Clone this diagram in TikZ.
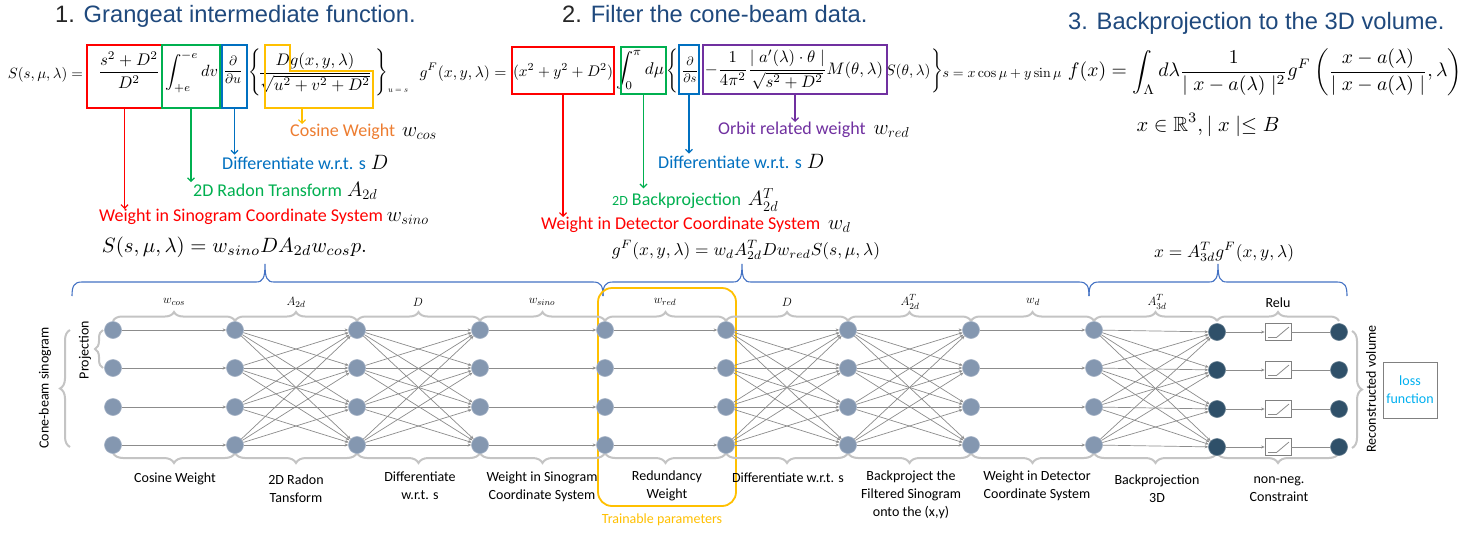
\documentclass[tikz,border=0pt]{standalone}
\usepackage[no-math]{fontspec}
\usepackage{amsmath,amssymb}
\newfontfamily\calib{Carlito}
\newfontfamily\arialf{Liberation Sans}
\usetikzlibrary{arrows.meta,decorations.pathreplacing,calc}
\definecolor{tblue}{HTML}{1F497D}
\definecolor{cred}{HTML}{FF0000}
\definecolor{cgreen}{HTML}{00B050}
\definecolor{cblue}{HTML}{0070C0}
\definecolor{cyel}{HTML}{FFC000}
\definecolor{cpurp}{HTML}{7030A0}
\definecolor{corange}{HTML}{ED7D31}
\definecolor{bblue}{HTML}{4472C4}
\definecolor{ngrey}{HTML}{8497B0}
\definecolor{ndark}{HTML}{2F5069}
\definecolor{bgrey}{HTML}{C4C4C4}
\definecolor{egrey}{HTML}{8C8C8C}
\definecolor{lossblue}{HTML}{00B0F0}
\newcommand{\fitw}[2]{\resizebox{#1pt}{!}{$\displaystyle #2$}}
\newcommand{\fith}[2]{\resizebox*{!}{#1pt}{$#2$}}
\newcommand{\amath}[1]{{\fontsize{20}{24}\selectfont$#1$}}
\newcommand{\bluebr}[3]{\draw[bbr] (#1,296) .. controls (#1,286) and ({#1+2},282) .. ({#1+10},282) -- ({#2-9},282) .. controls ({#2-2},282) and (#2,278) .. (#2,264) .. controls (#2,278) and ({#2+2},282) .. ({#2+9},282) -- ({#3-10},282) .. controls ({#3-2},282) and (#3,286) .. (#3,296);}
\begin{document}
\begin{tikzpicture}[x=1pt,y=-1pt,
  title/.style={font=\arialf\fontsize{23.7}{28}\selectfont, text=tblue, inner sep=0pt, anchor=base west},
  eq/.style={inner sep=0pt},
  ann/.style={font=\calib\fontsize{18}{22}\selectfont, inner sep=0pt, anchor=west},
  lab/.style={font=\calib\fontsize{14}{18}\selectfont, align=center, inner sep=0pt},
  mlab/.style={inner sep=0pt, font=\fontsize{12.5}{15}\selectfont},
  nd/.style={circle, fill=ngrey, draw=ngrey!75!white, line width=0.6pt, minimum size=17pt, inner sep=0pt},
  ndk/.style={nd, fill=ndark, draw=ndark!75!white},
  edge/.style={draw=egrey, line width=0.7pt, -{Stealth[length=3.5pt,width=3pt]}},
  hedge/.style={edge, line width=1pt},
  plain/.style={draw=egrey, line width=0.8pt},
  hbox/.style={draw, line width=2pt, inner sep=0pt},
  annarrow/.style={line width=1.2pt, -{Straight Barb[length=3.5pt,width=7pt]}},
  gbrup/.style={draw=bgrey, line width=2pt, decorate, decoration={brace, amplitude=9pt}},
  gbrdn/.style={draw=bgrey, line width=2pt, decorate, decoration={brace, mirror, amplitude=10pt}},
  gbrside/.style={draw=bgrey, line width=2pt, decorate, decoration={brace, amplitude=10pt}},
  bbr/.style={draw=bblue, line width=1.1pt},
  relubox/.style={draw=gray, line width=0.8pt, minimum width=26pt, minimum height=17pt, inner sep=0pt}
]
\useasboundingbox (0,0) rectangle (1464,533);
\fill[white] (0,0) rectangle (1464,533);

% ---------- titles
\node[title] (t1) at (55,22) {{\color{black!85}1.} Grangeat intermediate function.};
\node[title] (t2) at (562,22) {{\color{black!85}2.} Filter the cone-beam data.};
\node[title] (t3) at (1068,29) {3. Backprojection to the 3D volume.};

% ---------- formula 1
\node[eq] (f1a) at (45.5,75) {\fitw{75}{S(s,\mu,\lambda) =}};
\node[eq] (f1b) at (129,70) {\fitw{62}{\frac{s^2+D^2}{D^2}}};
\node[eq] (f1c) at (191.5,72) {\fitw{53}{\int_{+e}^{-e} dv}};
\node[eq] (f1d) at (233,70) {\fitw{19}{\frac{\partial}{\partial u}}};
\node[eq] (f1e) at (255,72) {\fith{47}{\Bigg\{}};
\node[eq] (f1f) at (315,73) {\fitw{114}{\frac{Dg(x,y,\lambda)}{\sqrt{u^2+v^2+D^2}}}};
\node[eq] (f1g) at (382,72) {\fith{47}{\Bigg\}}};
\node[eq] (f1h) at (398,91) {\resizebox{20pt}{!}{$u=s$}};
\node[hbox, draw=cred, minimum width=75pt, minimum height=63pt] (rb1) at (124.5,76.5) {};
\node[hbox, draw=cgreen, minimum width=58pt, minimum height=63pt] (gb1) at (191,76.5) {};
\node[hbox, draw=cblue, minimum width=25pt, minimum height=63pt] (bb1) at (234.5,76.5) {};
\draw[cyel, line width=2pt] (265,45) -- (290,45) -- (290,71) -- (373,71) -- (373,108) -- (265,108) -- cycle;
\coordinate (yb1) at (302,108);

% ---------- formula 2
\node[eq] (f2a) at (463,72) {\fitw{87}{g^F(x,y,\lambda) =}};
\node[eq] (f2b) at (563,72) {\fitw{100}{(x^2+y^2+D^2)}};
\node[eq] (f2c) at (640,70) {\fitw{48}{\int_0^\pi d\mu}};
\node[eq] (f2d) at (672,71) {\fith{44}{\Bigg\{}};
\node[eq] (f2e) at (690,70) {\fitw{16}{\frac{\partial}{\partial s}}};
\node[eq] (f2f) at (794,70) {\fitw{178}{-\frac{1}{4\pi^2}\frac{\mid a'(\lambda)\cdot\theta\mid}{\sqrt{s^2+D^2}}M(\theta,\lambda)}};
\node[eq] (f2g) at (908,72) {\fitw{45}{S(\theta,\lambda)}};
\node[eq] (f2h) at (937,71) {\fith{44}{\Bigg\}}};
\node[eq] (f2i) at (1002,74) {\fitw{119}{s = x\cos\mu + y\sin\mu}};
\node[hbox, draw=cred, minimum width=102pt, minimum height=47pt] (rb2) at (563,70.5) {};
\node[hbox, draw=cgreen, minimum width=45pt, minimum height=47pt] (gb2) at (643.5,70.5) {};
\node[hbox, draw=cblue, minimum width=20pt, minimum height=49pt] (bb2) at (689,69.5) {};
\node[hbox, draw=cpurp, minimum width=184pt, minimum height=49pt] (pb2) at (795,69.5) {};

% ---------- formula 3
\node[eq] (f3) at (1265,72) {\fitw{394}{f(x) = \int_\Lambda d\lambda \frac{1}{\mid x - a(\lambda)\mid^2} g^F\left(\frac{x-a(\lambda)}{\mid x-a(\lambda)\mid},\lambda\right)}};
\node[eq] (f3b) at (1208,125) {\fitw{143}{x\in\mathbb{R}^3, \mid x \mid \leq B}};

% ---------- annotations
\node[ann] (a1) at (290,132) {{\color{corange}Cosine Weight}\hspace{7pt}\amath{w_{cos}}};
\node[ann] (a2) at (222,162) {{\color{cblue}Differentiate w.r.t. s}\hspace{5pt}\amath{D}};
\node[ann] (a3) at (193,191) {{\color{cgreen}2D Radon Transform}\hspace{5pt}\amath{A_{2d}}};
\node[ann] (a4) at (99,217) {{\color{cred}Weight in Sinogram Coordinate System}\hspace{4pt}\amath{w_{sino}}};
\node[eq] (eqS) at (234.5,247) {\fitw{265}{S(s,\mu,\lambda) = w_{sino} D A_{2d} w_{cos} p.}};
\draw[annarrow, cred] (rb1.south) -- (rb1.south |- a4.north);
\draw[annarrow, cgreen] (gb1.south) -- (gb1.south |- a3.north);
\draw[annarrow, cblue] (bb1.south) -- (bb1.south |- a2.north);
\draw[annarrow, cyel] (yb1) -- (yb1 |- a1.north);

\node[ann] (b1) at (718,130) {{\color{cpurp}Orbit related weight}\hspace{8pt}\amath{w_{red}}};
\node[ann] (b2) at (658,161) {{\color{cblue}Differentiate w.r.t. s}\hspace{5pt}\amath{D}};
\node[ann] (b3) at (612,200) {{\color{cgreen}{\fontsize{14}{16}\selectfont 2D} Backprojection}\hspace{7pt}\amath{A^T_{2d}}};
\node[ann] (b4) at (541,225) {{\color{cred}Weight in Detector Coordinate System}\hspace{8pt}\amath{w_d}};
\node[eq] (eqG) at (746,250) {\fitw{268}{g^F(x,y,\lambda) = w_d A^T_{2d} D w_{red} S(s,\mu,\lambda)}};
\node[eq] (eqX) at (1224,252) {\fitw{140}{x = A^T_{3d} g^F(x,y,\lambda)}};
\draw[annarrow, cred] (rb2.south) -- (rb2.south |- b4.north);
\draw[annarrow, cgreen] (gb2.south) -- (gb2.south |- b3.north);
\draw[annarrow, cblue] (bb2.south) -- (bb2.south |- b2.north);
\draw[annarrow, cpurp] (pb2.south) -- (pb2.south |- b1.north);

% ---------- blue braces
\bluebr{72}{265}{603}
\bluebr{603}{742}{1089}
\bluebr{1089}{1218}{1347}

% ---------- trainable box
\node[draw=cyel, line width=1.8pt, rounded corners=14pt, minimum width=138pt, minimum height=218pt, inner sep=0pt] (train) at (667,397) {};
\node[font=\calib\fontsize{14}{16}\selectfont, text=cyel, inner sep=0pt] (trainlab) at (662,520) {Trainable parameters};

% ---------- grey layer braces
\foreach \a/\b in {113/235,235/357,357/480,480/605,605/726,726/848,848/971,971/1094,1094/1217,1217/1339}{
  \draw[gbrup] (\a,321) -- (\b,321);
  \draw[gbrdn] (\a,453) -- (\b,453);
}
\draw[gbrside] (70,447) -- (70,330);
\draw[draw=bgrey, line width=2pt, decorate, decoration={brace, amplitude=8pt}] (103,368) -- (103,330);
\draw[gbrside] (1352,331) -- (1352,448);

% ---------- nodes
\foreach \c/\x in {0/113,1/235,2/357,3/480,4/605,5/726,6/848,7/971,8/1094}{
  \foreach \r/\y in {1/330,2/368,3/407,4/445}{
    \node[nd] (n\c-\r) at (\x,\y) {};
  }
}
\foreach \c/\x in {9/1217,10/1339}{
  \foreach \r/\y in {1/332,2/370,3/409,4/447}{
    \node[ndk] (n\c-\r) at (\x,\y) {};
  }
}
% ---------- edges
\foreach \a/\b in {0/1,3/4,4/5,7/8}{
  \foreach \r in {1,...,4}{ \draw[hedge] (n\a-\r) -- (n\b-\r); }
}
\foreach \a/\b in {1/2,2/3,5/6,6/7,8/9}{
  \foreach \r in {1,...,4}{
    \foreach \s in {1,...,4}{ \draw[edge] (n\a-\r) -- (n\b-\s); }
  }
}
\foreach \r/\y in {1/332,2/370,3/409,4/447}{
  \node[relubox] (r\r) at (1278,\y) {};
  \draw[plain] ($(r\r.south west)+(3.5,-3.5)$) -- ($(r\r.south west)+(12,-3.5)$) -- ($(r\r.north east)+(-2.5,4)$);
  \draw[edge] (n9-\r) -- (r\r);
  \draw[plain] (r\r) -- (n10-\r);
}

% ---------- layer labels
\node[mlab] (m0) at (174,302) {$w_{cos}$};
\node[mlab] (m1) at (296,302) {$A_{2d}$};
\node[mlab] (m2) at (418,302) {$D$};
\node[mlab] (m3) at (542,302) {$w_{sino}$};
\node[mlab] (m4) at (665,302) {$w_{red}$};
\node[mlab] (m5) at (787,302) {$D$};
\node[mlab] (m6) at (910,302) {$A^T_{2d}$};
\node[mlab] (m7) at (1033,302) {$w_d$};
\node[mlab] (m8) at (1157,302) {$A^T_{3d}$};
\node[lab] (m9) at (1278,303) {Relu};

% ---------- bottom labels
\node[lab] (L0) at (175,479) {Cosine Weight};
\node[lab] (L1) at (296,489) {2D Radon\\Tansform};
\node[lab] (L2) at (420,486) {Differentiate\\w.r.t. s};
\node[lab] (L3) at (542,487) {Weight in Sinogram\\Coordinate System};
\node[lab] (L4) at (667,486) {Redundancy\\Weight};
\node[lab] (L5) at (788,478) {Differentiate w.r.t. s};
\node[lab] (L6) at (911,495) {Backproject the\\Filtered Sinogram\\onto the (x,y)};
\node[lab] (L7) at (1037,486) {Weight in Detector\\Coordinate System};
\node[lab] (L8) at (1157,489) {Backprojection\\3D};
\node[lab] (L9) at (1279,489) {non-neg.\\Constraint};

% ---------- side labels
\node[lab, rotate=90] (cbs) at (45,388) {Cone-beam sinogram};
\node[lab, rotate=90] (proj) at (85,350) {Projection};
\node[lab, rotate=90] (recv) at (1371,389) {Reconstructed volume};
\node[lab, draw=gray, line width=1pt, minimum width=54pt, minimum height=56pt, text=lossblue] (loss) at (1410,390) {loss\\function};
\end{tikzpicture}
\end{document}
